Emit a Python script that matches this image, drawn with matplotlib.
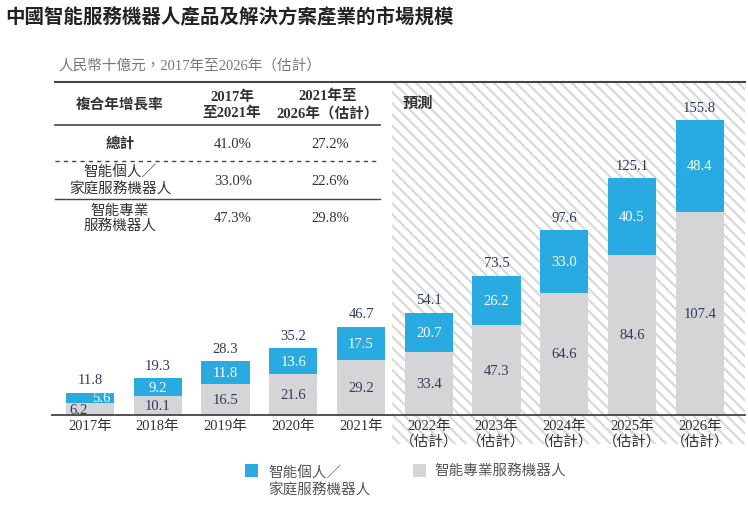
import matplotlib.pyplot as plt
from matplotlib.patches import Rectangle

plt.rcParams['font.family'] = ['Liberation Serif', 'Noto Sans CJK TC', 'DejaVu Sans']
plt.rcParams['hatch.linewidth'] = 1.6

# data (RMB billion)
years = ['2017年', '2018年', '2019年', '2020年', '2021年',
         '2022年\n（估計）', '2023年\n（估計）', '2024年\n（估計）', '2025年\n（估計）', '2026年\n（估計）']
professional = [6.2, 10.1, 16.5, 21.6, 29.2, 33.4, 47.3, 64.6, 84.6, 107.4]
personal = [5.6, 9.2, 11.8, 13.6, 17.5, 20.7, 26.2, 33.0, 40.5, 48.4]
totals = [11.8, 19.3, 28.3, 35.2, 46.7, 54.1, 73.5, 97.6, 125.1, 155.8]

cagr_rows = ['總計', '智能個人／\n家庭服務機器人', '智能專業\n服務機器人']
cagr_2017_2021 = ['41.0%', '33.0%', '47.3%']
cagr_2021_2026 = ['27.2%', '22.6%', '29.8%']

blue = '#29abe2'
grey = '#d5d5d7'
navy = '#2e3b5c'
dark = '#333333'

fig = plt.figure(figsize=(7.48, 5.06), dpi=100)

# background layer in pixel coordinates
bg = fig.add_axes([0, 0, 1, 1])
bg.set_xlim(0, 748)
bg.set_ylim(506, 0)
bg.axis('off')

# forecast hatched area
bg.add_patch(Rectangle((392, 83), 353, 362, facecolor='white', edgecolor='#d9d9d9',
                       hatch='\\\\\\', linewidth=0))
bg.text(418, 104, '預測', fontsize=11, fontweight='bold', style='italic', color=dark,
        ha='center', va='center')

# title
bg.text(5, 17, '中國智能服務機器人產品及解決方案產業的市場規模', fontsize=14,
        fontweight='bold', color='#222222', va='center')
bg.text(58, 66, '人民幣十億元，2017年至2026年（估計）', fontsize=10.5, color='#777777',
        va='center')

# CAGR table
bg.plot([55, 745], [83, 83], color='#444444', lw=1.5)
bg.plot([55, 380], [126, 126], color='#444444', lw=1.2)
bg.plot([55, 380], [162, 162], color='#444444', lw=1.0, ls=(0, (3, 3)))
bg.plot([55, 380], [200, 200], color='#444444', lw=1.0)
bg.text(120, 105, '複合年增長率', fontsize=10.5, fontweight='bold', color=dark,
        ha='center', va='center')
bg.text(232, 105, '2017年\n至2021年', fontsize=10.5, fontweight='bold', color=dark,
        ha='center', va='center', linespacing=1.25)
bg.text(328, 105, '2021年至\n2026年（估計）', fontsize=10.5, fontweight='bold', color=dark,
        ha='center', va='center', linespacing=1.25)
row_y = [144, 181, 219]
for k in range(3):
    bg.text(120, row_y[k], cagr_rows[k], fontsize=10.5, color=dark, ha='center', va='center',
            fontweight='bold' if k == 0 else 'normal', linespacing=1.2)
    bg.text(233, row_y[k], cagr_2017_2021[k], fontsize=10.5, color=dark, ha='center', va='center')
    bg.text(330, row_y[k], cagr_2021_2026[k], fontsize=10.5, color=dark, ha='center', va='center')

# legend
bg.add_patch(Rectangle((245, 465), 13, 13, facecolor=blue, edgecolor='none'))
bg.text(268, 482, '智能個人／\n家庭服務機器人', fontsize=10.5, color='#555555', va='center',
        linespacing=1.2)
bg.add_patch(Rectangle((413, 465), 13, 13, facecolor=grey, edgecolor='none'))
bg.text(434, 472, '智能專業服務機器人', fontsize=10.5, color='#555555', va='center')

# bar chart
ax = fig.add_axes([52 / 748, 90 / 506, 693 / 748, 333 / 506], zorder=2)
ax.patch.set_alpha(0)
step = 67.75
ax.set_xlim((52 - 90) / step, (745 - 90) / step)
ax.set_ylim(0, 333 / 1.893)
x = list(range(len(years)))
w = 0.71
ax.bar(x, professional, width=w, color=grey)
ax.bar(x, personal, width=w, bottom=professional, color=blue)

for i in x:
    dx_p, dx_b = (-11, 11) if i == 0 else (0, 0)
    ax.annotate(f'{professional[i]:.1f}', (i, professional[i] / 2), xytext=(dx_p, 0),
                textcoords='offset pixels', ha='center', va='center', fontsize=10.5, color=navy)
    ax.annotate(f'{personal[i]:.1f}', (i, professional[i] + personal[i] / 2), xytext=(dx_b, 0),
                textcoords='offset pixels', ha='center', va='center', fontsize=10.5, color='white')
    ax.annotate(f'{totals[i]:.1f}', (i, totals[i]), xytext=(0, 13), textcoords='offset pixels',
                ha='center', va='center', fontsize=10.5, color=navy)

for s in ['top', 'left', 'right']:
    ax.spines[s].set_visible(False)
ax.spines['bottom'].set_color('#444444')
ax.spines['bottom'].set_linewidth(1.3)
ax.set_yticks([])
ax.set_xticks(x)
ax.set_xticklabels(years, fontsize=10.5, color=dark, linespacing=1.15, va='top')
ax.tick_params(axis='x', length=0, pad=3)

fig.savefig('out.png', dpi=100)
